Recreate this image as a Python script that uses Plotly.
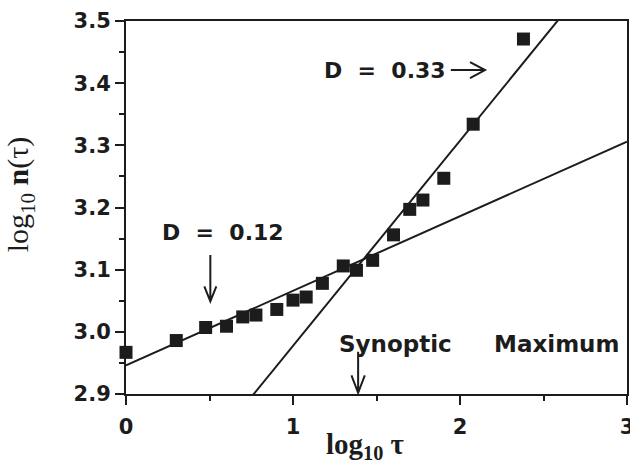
import numpy as np
import plotly.graph_objects as go

# log10 of averaging time tau, and log10 of the count n(tau)
log_tau = [0.0, 0.301, 0.477, 0.602, 0.699, 0.778, 0.903, 1.0, 1.079, 1.176,
           1.301, 1.380, 1.477, 1.602, 1.699, 1.778, 1.903, 2.079, 2.380]
log_n = [2.967, 2.986, 3.007, 3.009, 3.024, 3.027, 3.036, 3.051, 3.056, 3.078,
         3.106, 3.099, 3.115, 3.156, 3.197, 3.212, 3.247, 3.334, 3.471]

# two straight-line fits: slope D and intercept
fit_slopes = [0.12, 0.33]
fit_intercepts = [2.946, 2.6475]

x_ticks = [0, 1, 2, 3]
y_ticks = [2.9, 3.0, 3.1, 3.2, 3.3, 3.4, 3.5]

INK = "#1c1c1c"
SANS = "DejaVu Sans"
SERIF = "Liberation Serif"

fig = go.Figure()

x_line = np.array([0.0, 3.0])
for s, b in zip(fit_slopes, fit_intercepts):
    fig.add_trace(go.Scatter(x=x_line, y=b + s * x_line, mode="lines",
                             line=dict(color=INK, width=2), hoverinfo="skip"))

fig.add_trace(go.Scatter(x=log_tau, y=log_n, mode="markers", cliponaxis=False,
                         marker=dict(symbol="square", size=13, color=INK,
                                     line=dict(width=0))))


def arrow(x0, y0, x1, y1, hx, hy, vertical):
    """Shaft from (x0,y0) to tip (x1,y1) with an open V head."""
    if vertical:
        p = (f"M{x0},{y0} L{x1},{y1} M{x1-hx},{y1+hy} L{x1},{y1} L{x1+hx},{y1+hy}")
    else:
        p = (f"M{x0},{y0} L{x1},{y1} M{x1-hx},{y1+hy} L{x1},{y1} L{x1-hx},{y1-hy}")
    fig.add_shape(type="path", path=p, xref="x", yref="y",
                  line=dict(color=INK, width=2))


# arrow under "D = 0.12"
arrow(0.505, 3.1235, 0.505, 3.049, 0.036, 0.024, True)
# arrow after "D = 0.33"
arrow(1.945, 3.421, 2.150, 3.421, 0.09, 0.013, False)
# arrow from "Synoptic" down to the axis
arrow(1.39, 2.968, 1.39, 2.902, 0.04, 0.028, True)

label_font = dict(family=SANS, size=22, color=INK, weight="bold")
wide_font = dict(family=SANS, size=23, color=INK, weight="bold")
fig.add_annotation(x=1.93, y=3.421, text="D  =  0.33", showarrow=False,
                   xanchor="right", yanchor="middle", font=label_font)
fig.add_annotation(x=0.581, y=3.159, text="D  =  0.12", showarrow=False,
                   xanchor="center", yanchor="middle", font=label_font)
fig.add_annotation(x=1.615, y=2.980, text="Synoptic", showarrow=False,
                   xanchor="center", yanchor="middle", font=wide_font)
fig.add_annotation(x=2.19, y=2.980, text="Maximum", showarrow=False,
                   xanchor="left", yanchor="middle", font=wide_font)

# axis titles
fig.add_annotation(xref="paper", yref="paper", x=-0.21, y=0.535,
                   text="log<sub>10</sub> <b>n</b>(τ)", textangle=-90,
                   showarrow=False, xanchor="center", yanchor="middle",
                   font=dict(family=SERIF, size=30, color=INK))
fig.add_annotation(xref="paper", yref="paper", x=0.478, y=-0.085,
                   text="<b>log<sub>10</sub> τ</b>",
                   showarrow=False, xanchor="center", yanchor="top",
                   font=dict(family=SERIF, size=29, color=INK))

tick_font = dict(family=SANS, size=21, color=INK, weight="bold")
axis_common = dict(showline=True, linewidth=2, linecolor=INK, mirror=True,
                   ticks="outside", ticklen=9, tickwidth=2, tickcolor=INK,
                   showgrid=False, zeroline=False, tickfont=tick_font,
                   ticklabeloverflow="allow", automargin=False)

fig.update_xaxes(range=[0, 3], tickvals=x_ticks, ticktext=[str(v) for v in x_ticks],
                 minor=dict(dtick=0.5, ticklen=5, tickwidth=2, ticks="outside",
                            tickcolor=INK, showgrid=False),
                 ticklabelstandoff=4, **axis_common)
fig.update_yaxes(range=[2.9, 3.5], tickvals=y_ticks,
                 ticktext=[f"{v:.1f}" for v in y_ticks],
                 minor=dict(dtick=0.05, ticklen=5, tickwidth=2, ticks="outside",
                            tickcolor=INK, showgrid=False),
                 **axis_common)

fig.update_layout(width=630, height=461, showlegend=False,
                  margin=dict(l=126, r=3, t=21, b=67),
                  paper_bgcolor="white", plot_bgcolor="white")

fig.write_html("out.html")
